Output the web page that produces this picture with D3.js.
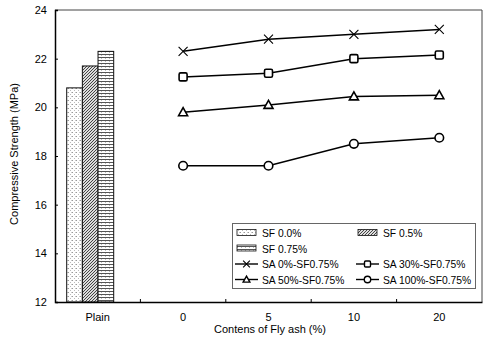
<!DOCTYPE html>
<html><head><meta charset="utf-8">
<script src="https://cdn.jsdelivr.net/npm/d3@7"></script>
<style>body{margin:0;background:#fff}svg{display:block;font-family:"Liberation Sans",Arial,sans-serif}</style>
</head><body><svg id="c" width="484" height="341"></svg>
<script>
const categories = ["Plain", "0", "5", "10", "20"];
const barSeries = ["SF 0.0%", "SF 0.5%", "SF 0.75%"];
const barValues = [20.8, 21.7, 22.3];
const lineSeries = ["SA 0%-SF0.75%", "SA 30%-SF0.75%", "SA 50%-SF0.75%", "SA 100%-SF0.75%"];
const lineCats = ["0", "5", "10", "20"];
const sa0 = [22.3, 22.8, 23.0, 23.2];
const sa30 = [21.25, 21.4, 22.0, 22.15];
const sa50 = [19.8, 20.1, 20.45, 20.5];
const sa100 = [17.6, 17.6, 18.5, 18.75];
const yTicks = [12, 14, 16, 18, 20, 22, 24];
const lineValues = [sa0, sa30, sa50, sa100];
const markers = ["x", "square", "triangle", "circle"];

const svg = d3.select("#c");
const m = {l: 55, r: 482, t: 10, b: 302};
const x = d3.scaleBand().domain(categories).range([m.l, m.r]);
const y = d3.scaleLinear().domain([12, 24]).range([m.b, m.t]);
const xb = d3.scaleBand().domain(barSeries).range([-31, 16]);

// patterns
const defs = svg.append("defs");
const p0 = defs.append("pattern").attr("id","p0").attr("patternUnits","userSpaceOnUse").attr("width",4).attr("height",4);
p0.append("rect").attr("width",4).attr("height",4).attr("fill","#fff");
p0.append("rect").attr("x",0).attr("y",0).attr("width",1).attr("height",1).attr("fill","#999");
p0.append("rect").attr("x",2).attr("y",2).attr("width",1).attr("height",1).attr("fill","#bbb");
p0.append("rect").attr("x",3).attr("y",0).attr("width",1).attr("height",1).attr("fill","#ccc");
const p1 = defs.append("pattern").attr("id","p1").attr("patternUnits","userSpaceOnUse").attr("width",3).attr("height",3);
p1.append("rect").attr("width",3).attr("height",3).attr("fill","#ddd");
p1.append("path").attr("d","M0,3L3,0M-1,1L1,-1M2,4L4,2").attr("stroke","#333").attr("stroke-width",0.9);
const p2 = defs.append("pattern").attr("id","p2").attr("patternUnits","userSpaceOnUse").attr("width",4).attr("height",3);
p2.append("rect").attr("width",4).attr("height",3).attr("fill","#fff");
p2.append("rect").attr("y",0).attr("width",4).attr("height",1).attr("fill","#555");
p2.append("rect").attr("x",1).attr("y",1).attr("width",1).attr("height",1).attr("fill","#bbb");
const fills = ["url(#p0)","url(#p1)","url(#p2)"];

// frame top/right
svg.append("path").attr("d",`M${m.l},${m.t}H${m.r}V${m.b}`).attr("fill","none").attr("stroke","#444").attr("stroke-width",1);

// bars
svg.append("g").selectAll("rect").data(barValues).join("rect")
  .attr("x",(d,i)=>x("Plain")+x.bandwidth()/2+xb(barSeries[i]))
  .attr("width",xb.bandwidth())
  .attr("y",d=>y(d)).attr("height",d=>y(12)-y(d))
  .attr("fill",(d,i)=>fills[i]).attr("stroke","#111").attr("stroke-width",1);

// axes
const ya = d3.axisLeft(y).tickValues(yTicks).tickSize(-3).tickPadding(8).tickFormat(d3.format("d"));
const yg = svg.append("g").attr("transform",`translate(${m.l},0)`).call(ya);
yg.select(".domain").attr("stroke","#000").attr("stroke-width",1.5);
yg.selectAll("text").attr("font-size",11).attr("fill","#000").attr("font-family","Liberation Sans, Arial, sans-serif");
const xa = d3.axisBottom(x).tickSize(0).tickPadding(11);
const xg = svg.append("g").attr("transform",`translate(0,${m.b})`).call(xa);
xg.select(".domain").attr("stroke","#000").attr("stroke-width",1.5);
xg.selectAll("text").attr("font-size",11).attr("fill","#000").attr("font-family","Liberation Sans, Arial, sans-serif");
// inner ticks between categories
svg.append("g").selectAll("line").data(categories.slice(1)).join("line")
  .attr("x1",d=>x(d)).attr("x2",d=>x(d)).attr("y1",m.b).attr("y2",m.b-3).attr("stroke","#000");

// lines
const line = d3.line().x((d,i)=>x(lineCats[i])+x.bandwidth()/2).y(d=>y(d));
function drawMarker(g, type, cx, cy, s){
  s = s || 1;
  if(type==="x"){
    const a = 4.5*s;
    g.append("path").attr("d",`M${cx-a},${cy-a}L${cx+a},${cy+a}M${cx-a},${cy+a}L${cx+a},${cy-a}`).attr("stroke","#000").attr("stroke-width",1.1);
  } else if(type==="square"){
    const a = 4*s;
    g.append("rect").attr("x",cx-a).attr("y",cy-a).attr("width",2*a).attr("height",2*a).attr("rx",1.5*s).attr("fill","#fff").attr("stroke","#000").attr("stroke-width",1.6*Math.sqrt(s));
  } else if(type==="triangle"){
    const a = 4.5*s;
    g.append("path").attr("d",`M${cx},${cy-a}L${cx+a},${cy+a*0.78}L${cx-a},${cy+a*0.78}Z`).attr("fill","#fff").attr("stroke","#000").attr("stroke-width",1.6*Math.sqrt(s));
  } else {
    g.append("circle").attr("cx",cx).attr("cy",cy).attr("r",4.3*s).attr("fill","#fff").attr("stroke","#000").attr("stroke-width",1.6*Math.sqrt(s));
  }
}
lineValues.forEach((vals,k)=>{
  const g = svg.append("g");
  g.append("path").attr("d",line(vals)).attr("fill","none").attr("stroke","#000").attr("stroke-width",1.5);
  vals.forEach((v,i)=>drawMarker(g, markers[k], x(lineCats[i])+x.bandwidth()/2, y(v)));
});

// legend
const lg = svg.append("g");
lg.append("rect").attr("x",232.5).attr("y",223.5).attr("width",243).attr("height",65).attr("fill","#fff").attr("stroke","#666").attr("stroke-width",1);
const cols = [237, 358];
const rowsY = [233, 248.5, 264, 279.5];
const barPos = [[0,0],[1,0],[0,1]];
barSeries.forEach((s,i)=>{
  const cx = cols[barPos[i][0]], cy = rowsY[barPos[i][1]];
  lg.append("rect").attr("x",cx).attr("y",cy-3.5).attr("width",19).attr("height",6).attr("fill",fills[i]).attr("stroke","#111").attr("stroke-width",0.8);
  lg.append("text").attr("x",cx+25).attr("y",cy+4).attr("font-size",10.3).text(s);
});
lineSeries.forEach((s,i)=>{
  const cx = cols[i%2]-2, cy = rowsY[2+Math.floor(i/2)];
  lg.append("line").attr("x1",cx).attr("x2",cx+23).attr("y1",cy).attr("y2",cy).attr("stroke","#000").attr("stroke-width",1.4);
  drawMarker(lg, markers[i], cx+11.5, cy, 0.75);
  lg.append("text").attr("x",cx+27).attr("y",cy+4).attr("font-size",10.3).text(s);
});

// axis titles
svg.append("text").attr("x",270).attr("y",333).attr("text-anchor","middle").attr("font-size",11).text("Contens of Fly ash (%)");
svg.append("text").attr("transform","translate(18,154) rotate(-90)").attr("text-anchor","middle").attr("font-size",11).text("Compressive Strength (MPa)");
</script></body></html>
